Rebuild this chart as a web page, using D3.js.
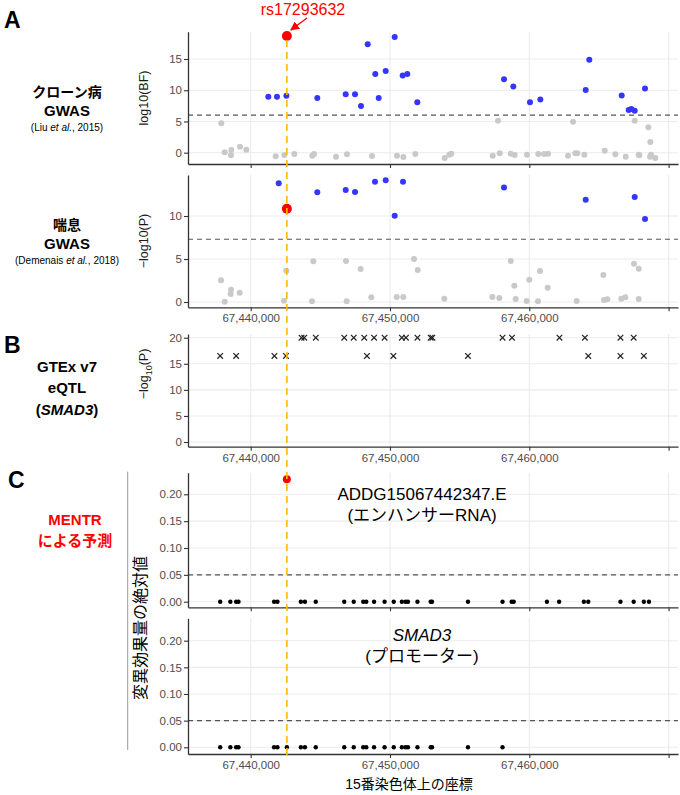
<!DOCTYPE html>
<html><head><meta charset="utf-8">
<script src="https://cdn.jsdelivr.net/npm/d3@7"></script>
<style>
body{margin:0;background:#fff}
text{font-family:"Liberation Sans",Arial,"Noto Sans CJK JP",sans-serif}
</style>
</head><body>
<svg id="c" width="680" height="795"></svg>
<script>
// ---------------- data ----------------
const snpPos = 67442596;
const snpName = "rs17293632";
const xTicks = [67440000, 67450000, 67460000, 67470000];
const xTickLabels = ["67,440,000", "67,450,000", "67,460,000", ""];

// Crohn's disease GWAS, log10(BF)
const crohnBluePos = [67441264, 67441888, 67442560, 67444781, 67446820, 67447488, 67447918, 67448399, 67448945, 67449189, 67449691, 67450337, 67450912, 67451242, 67451960, 67458185, 67458854, 67460050, 67460790, 67464049, 67464308, 67466634, 67467136, 67467323, 67467567, 67468307];
const crohnBlueVal = [8.97, 8.97, 9.13, 8.77, 9.35, 9.35, 7.48, 17.37, 12.61, 8.77, 13.09, 18.54, 12.34, 12.61, 8.07, 11.76, 10.58, 8.07, 8.5, 10.05, 14.86, 9.14, 6.84, 7.0, 6.73, 10.26];
const crohnGreyPos = [67437890, 67438134, 67438608, 67438586, 67439232, 67439684, 67441795, 67442412, 67443130, 67444422, 67444544, 67446124, 67446913, 67448708, 67450503, 67450955, 67451817, 67453927, 67454257, 67454401, 67457373, 67457753, 67457875, 67458665, 67458952, 67459835, 67460646, 67461056, 67461343, 67462779, 67463138, 67463303, 67463447, 67463950, 67465414, 67466175, 67466921, 67467854, 67467897, 67467567, 67468544, 67468687, 67468737, 67468666, 67469048];
const crohnGreyVal = [4.7, 0.06, 0.43, -0.42, 0.96, 0.48, -0.58, -0.37, -0.21, -0.5, -0.21, -0.64, -0.24, -0.53, -0.5, -0.7, -0.21, -0.85, -0.32, -0.16, -0.48, 5.13, -0.1, -0.16, -0.37, -0.32, -0.2, -0.2, -0.16, -0.48, 4.97, -0.1, -0.1, -0.32, 0.32, -0.24, -0.64, -0.32, -0.42, 5.13, 4.06, 1.71, -0.32, -0.64, -0.85];
const crohnLeadVal = 18.68;
const crohnThreshold = 6;

// Asthma GWAS, -log10(P)
const asthmaBluePos = [67442010, 67444781, 67446820, 67447488, 67448923, 67449691, 67450337, 67450934, 67458185, 67464049, 67467567, 67468307];
const asthmaBlueVal = [13.8, 12.75, 13.02, 12.79, 13.99, 14.15, 10.04, 13.99, 13.33, 11.9, 12.21, 9.65];
const asthmaGreyPos = [67437868, 67438134, 67438586, 67438565, 67439210, 67442390, 67442556, 67444400, 67444494, 67446841, 67446891, 67447896, 67448658, 67450481, 67450955, 67451723, 67451988, 67453899, 67457345, 67457847, 67458665, 67458924, 67459024, 67459814, 67460000, 67460624, 67460768, 67461321, 67463403, 67465313, 67465363, 67465600, 67466605, 67466892, 67467517, 67467854, 67467854];
const asthmaGreyVal = [2.52, 0.04, 1.43, 0.93, 1.08, 0.15, 3.64, 0.08, 4.73, 4.77, 0.08, 3.84, 0.54, 0.58, 0.58, 5.0, 3.72, 0.39, 0.58, 0.47, 4.77, 1.9, 0.35, 0.12, 2.6, 0.08, 3.6, 1.67, 0.12, 3.14, 0.23, 0.31, 0.39, 0.54, 4.46, 3.88, 0.35];
const asthmaLeadVal = 10.85;
const asthmaThreshold = 7.3;

// GTEx v7 eQTL (SMAD3), -log10(P)
const eqtlPos = [67443650, 67443844, 67444672, 67446715, 67447397, 67448151, 67448856, 67449611, 67450852, 67451144, 67451971, 67452920, 67453041, 67458078, 67458759, 67462165, 67463990, 67466545, 67467494,
                 67437810, 67438954, 67441703, 67442530, 67448345, 67450243, 67455596, 67464233, 67466545, 67468224];
const eqtlVal = [20, 20, 20, 20, 20, 20, 20, 20, 20, 20, 20, 20, 20, 20, 20, 20, 20, 20, 20,
                 16.5, 16.5, 16.5, 16.5, 16.5, 16.5, 16.5, 16.5, 16.5, 16.5];

// MENTR predictions, |effect size|
const mentrPos = [67437810, 67438540, 67438954, 67439124, 67441679, 67441922, 67442596, 67443601, 67443893, 67444672, 67446715, 67447397, 67448078, 67448297, 67448856, 67449611, 67450268, 67450852, 67451119, 67451290, 67451971, 67452920, 67453017, 67455596, 67458078, 67458735, 67458881, 67461265, 67462141, 67463917, 67464233, 67466545, 67467494, 67468224, 67468589];
const enhancerVal = [0, 0, 0, 0, 0, 0, 0.228, 0, 0, 0, 0, 0, 0, 0, 0, 0, 0, 0, 0, 0, 0, 0, 0, 0, 0, 0, 0, 0, 0, 0, 0, 0, 0, 0, 0];
const promoterVal = [0, 0, 0, 0, 0, 0, 0, 0, 0, 0, 0, 0, 0, 0, 0, 0, 0, 0, 0, 0, 0, 0, 0, 0, 0, null, null, null, null, null, null, null, null, null, null];
const mentrThreshold = 0.05;
const gwasTicks = [0, 5, 10, 15];
const eqtlTicks = [0, 5, 10, 15, 20];
const mentrTicks = [0, 0.05, 0.10, 0.15, 0.20];

// ---------------- drawing ----------------
const svg = d3.select("#c");
const X0 = 188, X1 = 678;
const x = d3.scaleLinear().domain([67435499, 67470675]).range([X0, X1]);
const BLUE = "#3535ff", GREY = "#c9c9c9", RED = "#ff0000", ORANGE = "#ffbb00";

function panel(cfg) {
  const y = d3.scaleLinear().domain(cfg.domain).range([cfg.bottom, cfg.top]);
  const g = svg.append("g");
  // grid
  g.selectAll(".gy").data(cfg.yTicks).join("line")
    .attr("x1", X0).attr("x2", X1).attr("y1", d => y(d)).attr("y2", d => y(d))
    .attr("stroke", "#ebebeb").attr("stroke-width", 1.1);
  g.selectAll(".gx").data(xTicks).join("line")
    .attr("x1", d => x(d)).attr("x2", d => x(d)).attr("y1", cfg.top).attr("y2", cfg.bottom)
    .attr("stroke", "#ebebeb").attr("stroke-width", 1.1);
  // threshold
  if (cfg.threshold != null) {
    g.append("line").attr("x1", X0).attr("x2", X1)
      .attr("y1", y(cfg.threshold)).attr("y2", y(cfg.threshold))
      .attr("stroke", "#555").attr("stroke-width", 1.2).attr("stroke-dasharray", "5,4");
  }
  // axes
  const ya = g.append("g").attr("transform", `translate(${X0},0)`)
    .call(d3.axisLeft(y).tickValues(cfg.yTicks).tickFormat(cfg.fmt).tickSize(4).tickSizeOuter(0).tickPadding(2));
  const xa = g.append("g").attr("transform", `translate(0,${cfg.bottom})`)
    .call(d3.axisBottom(x).tickValues(xTicks).tickFormat((d, i) => cfg.xLabels ? xTickLabels[i] : "").tickSize(4).tickSizeOuter(0).tickPadding(3));
  [ya, xa].forEach(a => {
    a.select(".domain").attr("stroke", "#333").attr("stroke-width", 1.3);
    a.selectAll(".tick line").attr("stroke", "#333").attr("stroke-width", 1.1);
    a.selectAll(".tick text").attr("fill", "#4d4d4d").attr("font-size", 11.5)
      .attr("font-family", "'Liberation Sans', Arial, sans-serif");
  });
  return {g, y};
}

function dots(p, pos, val, r, fill) {
  const data = pos.map((d, i) => ({p: d, v: val[i]})).filter(d => d.v != null);
  p.g.append("g").selectAll("circle").data(data).join("circle")
    .attr("cx", d => x(d.p)).attr("cy", d => p.y(d.v)).attr("r", r).attr("fill", fill);
}

// Panel A1
const pA1 = panel({top: 31.7, bottom: 164, domain: [-1.81, 19.37], yTicks: gwasTicks, fmt: d3.format("d"), threshold: crohnThreshold, xLabels: false});
dots(pA1, crohnGreyPos, crohnGreyVal, 3, GREY);
dots(pA1, crohnBluePos, crohnBlueVal, 3, BLUE);
// Panel A2
const pA2 = panel({top: 175, bottom: 307.3, domain: [-0.616, 14.77], yTicks: [0, 5, 10], fmt: d3.format("d"), threshold: asthmaThreshold, xLabels: true});
dots(pA2, asthmaGreyPos, asthmaGreyVal, 3, GREY);
dots(pA2, asthmaBluePos, asthmaBlueVal, 3, BLUE);
// Panel B
const pB = panel({top: 334, bottom: 446.7, domain: [-0.9, 20.71], yTicks: eqtlTicks, fmt: d3.format("d"), threshold: null, xLabels: true});
pB.g.append("g").selectAll("path").data(eqtlPos.map((d, i) => ({p: d, v: eqtlVal[i]}))).join("path")
  .attr("transform", d => `translate(${x(d.p)},${pB.y(d.v)})`)
  .attr("d", "M-2.8,-2.8L2.8,2.8M-2.8,2.8L2.8,-2.8")
  .attr("stroke", "#222").attr("stroke-width", 1.2).attr("fill", "none");
// Panel C1
const pC1 = panel({top: 472.7, bottom: 607.3, domain: [-0.0104, 0.2402], yTicks: mentrTicks, fmt: d3.format(".2f"), threshold: mentrThreshold, xLabels: false});
const enhBlackVal = enhancerVal.map((v, i) => mentrPos[i] === snpPos ? null : v);
dots(pC1, mentrPos, enhBlackVal, 2.2, "#000");
// Panel C2
const pC2 = panel({top: 618.3, bottom: 754, domain: [-0.0126, 0.2420], yTicks: mentrTicks, fmt: d3.format(".2f"), threshold: mentrThreshold, xLabels: true});
dots(pC2, mentrPos, promoterVal, 2.2, "#000");

// orange SNP line
svg.append("line").attr("x1", x(snpPos)).attr("x2", x(snpPos)).attr("y1", 40).attr("y2", 755)
  .attr("stroke", ORANGE).attr("stroke-width", 1.6).attr("stroke-dasharray", "7,5");

// red lead points
pA1.g.append("circle").attr("cx", x(snpPos)).attr("cy", pA1.y(crohnLeadVal)).attr("r", 5).attr("fill", RED);
pA2.g.append("circle").attr("cx", x(snpPos)).attr("cy", pA2.y(asthmaLeadVal)).attr("r", 5).attr("fill", RED);
const snpIdx = mentrPos.indexOf(snpPos);
pC1.g.append("circle").attr("cx", x(snpPos)).attr("cy", pC1.y(enhancerVal[snpIdx])).attr("r", 4).attr("fill", RED);

// SNP label + arrow
const defs = svg.append("defs");
defs.append("marker").attr("id", "ah").attr("viewBox", "0 0 10 10").attr("refX", 9).attr("refY", 5)
  .attr("markerWidth", 7).attr("markerHeight", 7).attr("orient", "auto")
  .append("path").attr("d", "M0,0L10,5L0,10z").attr("fill", RED);
svg.append("text").attr("x", 303).attr("y", 15).attr("text-anchor", "middle")
  .attr("font-size", 16).attr("fill", RED).text(snpName);
svg.append("line").attr("x1", 307).attr("y1", 18).attr("x2", x(snpPos) + 4).attr("y2", 30)
  .attr("stroke", RED).attr("stroke-width", 1.3).attr("marker-end", "url(#ah)");

// axis titles
function vtitle(xp, yc, size) {
  return svg.append("text").attr("transform", `translate(${xp},${yc}) rotate(-90)`)
    .attr("text-anchor", "middle").attr("font-size", size).attr("fill", "#1a1a1a");
}
vtitle(148, 98, 12.5).text("log10(BF)");
vtitle(148, 241, 12.5).text("\u2212log10(P)");
const tb = vtitle(148, 374, 12.5);
tb.append("tspan").text("\u2212log");
tb.append("tspan").attr("font-size", 9).attr("dy", 4).text("10");
tb.append("tspan").attr("dy", -4).text("(P)");
vtitle(146, 628, 16).attr("fill", "#000").text("変異効果量の絶対値");

svg.append("text").attr("x", 409).attr("y", 789).attr("text-anchor", "middle")
  .attr("font-size", 14).attr("fill", "#000").text("15番染色体上の座標");

// left-side labels
function t(xp, yp, size, txt, opts = {}) {
  const e = svg.append("text").attr("x", xp).attr("y", yp).attr("font-size", size)
    .attr("text-anchor", opts.anchor || "middle").attr("fill", opts.fill || "#000")
    .attr("font-weight", opts.bold ? "bold" : "normal");
  if (txt != null) e.text(txt);
  return e;
}
t(4, 28, 23, "A", {anchor: "start", bold: true});
t(4, 353, 23, "B", {anchor: "start", bold: true});
t(8, 488, 23, "C", {anchor: "start", bold: true});

t(67, 97, 14, "クローン病", {bold: true});
t(67, 116, 15, "GWAS", {bold: true});
const l1 = t(67, 131, 10, null);
l1.append("tspan").text("(Liu ");
l1.append("tspan").attr("font-style", "italic").text("et al.");
l1.append("tspan").text(", 2015)");

t(67, 230, 14, "喘息", {bold: true});
t(67, 249, 15, "GWAS", {bold: true});
const l2 = t(67, 264, 10, null);
l2.append("tspan").text("(Demenais ");
l2.append("tspan").attr("font-style", "italic").text("et al.");
l2.append("tspan").text(", 2018)");

t(67, 372, 15, "GTEx v7", {bold: true});
t(67, 393, 15, "eQTL", {bold: true});
const l3 = t(67, 415, 15, null, {bold: true});
l3.append("tspan").text("(");
l3.append("tspan").attr("font-style", "italic").text("SMAD3");
l3.append("tspan").text(")");

t(75, 525, 15, "MENTR", {bold: true, fill: RED});
t(75, 546, 15, "による予測", {bold: true, fill: RED});
svg.append("line").attr("x1", 127.7).attr("x2", 127.7).attr("y1", 471.7).attr("y2", 750)
  .attr("stroke", "#999").attr("stroke-width", 1);

// in-panel annotations
const cx = x(67452300);
t(cx, 500, 17, "ADDG15067442347.E");
t(cx, 521, 17, "(エンハンサーRNA)");
t(cx, 641, 17, "SMAD3").attr("font-style", "italic");
t(cx, 662, 17, "(プロモーター)");
</script>
</body></html>
